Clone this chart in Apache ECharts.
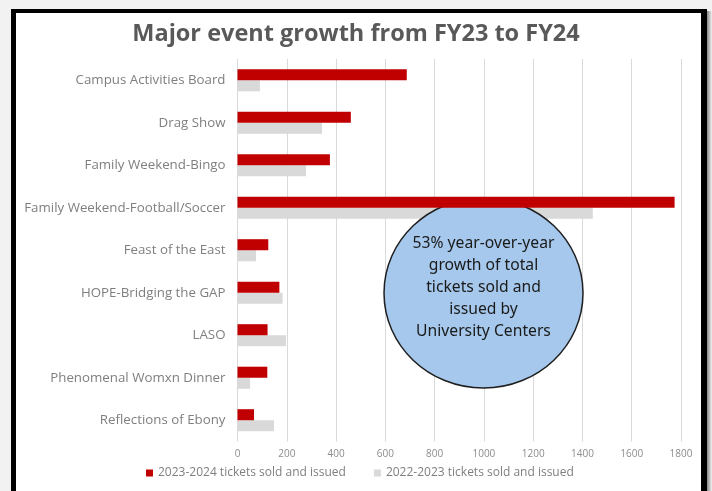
<!DOCTYPE html>
<html>
<head>
<meta charset="utf-8">
<script src="https://cdn.jsdelivr.net/npm/echarts@6/dist/echarts.min.js"></script>
<style>
html, body { margin: 0; padding: 0; background: #f2f2f2; }
#canvasContainer { width: 712px; height: 491px; }
</style>
</head>
<body>
<div id="canvasContainer"></div>
<script>
// event names, top to bottom
var events = [
    'Campus Activities Board',
    'Drag Show',
    'Family Weekend-Bingo',
    'Family Weekend-Football/Soccer',
    'Feast of the East',
    'HOPE-Bridging the GAP',
    'LASO',
    'Phenomenal Womxn Dinner',
    'Reflections of Ebony'
];
var fy24 = [687, 460, 375, 1774, 125, 170, 122, 121, 67];
var fy23 = [91, 343, 278, 1442, 75, 183, 197, 51, 148];
var seriesNames = ['2023-2024 tickets sold and issued', '2022-2023 tickets sold and issued'];
var noteLines = ['53% year-over-year', 'growth of total', 'tickets sold and', 'issued by', 'University Centers'];

var chart = echarts.init(document.getElementById('canvasContainer'));
var option = {
    backgroundColor: '#f2f2f2',
    color: ['#c00000', '#d9d9d9'],
    title: {
        text: 'Major event growth from FY23 to FY24',
        left: 'center',
        top: 17,
        textStyle: {
            fontFamily: 'Open Sans',
            fontWeight: 'bold',
            fontSize: 23.5,
            color: '#595959'
        }
    },
    legend: {
        data: seriesNames,
        bottom: 7,
        left: 141,
        icon: 'rect',
        itemWidth: 7,
        itemHeight: 7,
        itemGap: 28,
        textStyle: { fontFamily: 'Open Sans', fontSize: 12, color: '#7f7f7f' }
    },
    grid: {
        left: 237.5,
        right: 31,
        top: 59,
        bottom: 49.5
    },
    xAxis: {
        type: 'value',
        min: 0,
        max: 1800,
        interval: 200,
        axisLine: { show: false },
        axisTick: { show: false },
        axisLabel: {
            fontFamily: 'Open Sans', fontSize: 10, color: '#8c8c8c', margin: 8,
            formatter: function (v) { return String(v); }
        },
        splitLine: { lineStyle: { color: '#d9d9d9', width: 1 } }
    },
    yAxis: {
        type: 'category',
        inverse: true,
        data: events,
        axisLine: { show: false },
        axisTick: { show: false },
        axisLabel: { fontFamily: 'Open Sans', fontSize: 13.3, color: '#7f7f7f', margin: 12 }
    },
    series: [
        {
            name: seriesNames[0],
            type: 'bar',
            z: 10,
            data: fy24,
            barGap: '0%',
            barCategoryGap: '48%'
        },
        {
            name: seriesNames[1],
            type: 'bar',
            z: 2,
            data: fy23
        }
    ],
    graphic: [
        { type: 'rect', z: -10, shape: { x: 11, y: 9, width: 696, height: 500 }, style: { fill: '#fff' }, silent: true },
        { type: 'rect', z: 100, shape: { x: 11, y: 9, width: 5, height: 500 }, style: { fill: '#000' }, silent: true },
        { type: 'rect', z: 100, shape: { x: 11, y: 9, width: 696, height: 4 }, style: { fill: '#000' }, silent: true },
        { type: 'rect', z: 100, shape: { x: 701, y: 9, width: 6, height: 500 }, style: { fill: '#000' }, silent: true },
        {
            type: 'rect', z: 100, shape: { x: 707, y: 11, width: 5, height: 500 }, silent: true,
            style: { fill: new echarts.graphic.LinearGradient(0, 0, 1, 0, [
                { offset: 0, color: '#8a8a8a' }, { offset: 1, color: '#f2f2f2' }
            ]) }
        },
        {
            type: 'ellipse', z: 5, shape: { cx: 483.5, cy: 293, rx: 99.5, ry: 95 }, silent: true,
            style: { fill: '#a6c8ec', stroke: '#1f1f1f', lineWidth: 1.5 }
        },
        {
            type: 'text', z: 6, x: 483.5, y: 288, silent: true,
            style: {
                text: noteLines.join('\n'),
                align: 'center',
                verticalAlign: 'middle',
                font: '15.7px "Noto Sans"',
                lineHeight: 22,
                fill: '#1a1a1a'
            }
        }
    ]
};
chart.setOption(option);
</script>
</body>
</html>
